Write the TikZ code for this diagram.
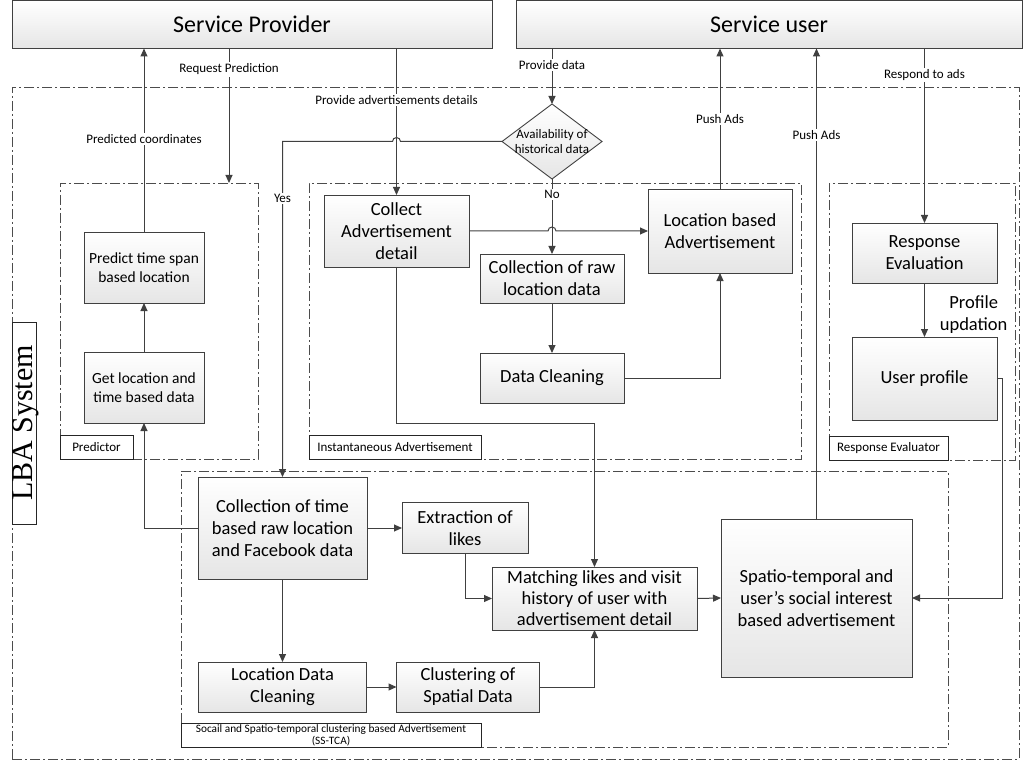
\documentclass[tikz,border=0pt]{standalone}
\usepackage{fontspec}
\setmainfont{Carlito}
\newfontfamily\lbafont{Liberation Serif}
\usetikzlibrary{arrows.meta, shapes.geometric}

\begin{document}
\begin{tikzpicture}[x=1pt, y=-1pt,
	every node/.style={outer sep=0pt},
	box/.style={draw=black!75, line width=0.9pt, top color=white, bottom color=black!10, align=center, inner sep=1pt, font=\fontsize{18.5}{22}\selectfont},
	smallbox/.style={box, font=\fontsize{15.5}{19}\selectfont},
	head/.style={box, font=\fontsize{24}{28}\selectfont},
	decision/.style={diamond, draw=black!75, line width=0.9pt, top color=white, bottom color=black!10, align=center, inner sep=-14pt, minimum width=100, minimum height=75, font=\fontsize{13}{15.5}\selectfont},
	group/.style={draw=black!70, line width=0.8pt, dash pattern=on 10pt off 3pt on 2pt off 3pt, inner sep=0pt},
	tag/.style={draw=black!85, line width=0.8pt, fill=white, anchor=south west, inner sep=1pt, font=\fontsize{13}{15}\selectfont},
	lbl/.style={fill=white, inner sep=1.5pt, font=\fontsize{13}{15}\selectfont},
	flow/.style={draw=black!75, line width=1pt, -{Triangle[length=8pt, width=7pt]}}]
	\useasboundingbox (0,0) rectangle (1023,762);
	\node[head, minimum width=480, minimum height=48] (sp) at (252,24.5) {Service Provider};
	\node[head, minimum width=506, minimum height=48] (su) at (769,24.5) {Service user};
	\node[group, minimum width=1007, minimum height=672] (lba) at (515.5,423) {};
	\node[group, minimum width=198, minimum height=276] (pred) at (159,321) {};
	\node[group, minimum width=492, minimum height=276] (inst) at (555,321) {};
	\node[group, minimum width=186, minimum height=277] (resp) at (922,321.5) {};
	\node[group, minimum width=767, minimum height=276] (ss) at (564.5,609) {};
	\node[tag, minimum width=73, minimum height=24] (predtag) at (pred.south west) {Predictor};
	\node[tag, minimum width=172, minimum height=24] (insttag) at (inst.south west) {Instantaneous Advertisement};
	\node[tag, minimum width=119, minimum height=24] (resptag) at (resp.south west) {Response Evaluator};
	\node[tag, minimum width=300, minimum height=24, align=center, font=\fontsize{11.3}{12}\selectfont] (sstag) at (ss.south west) {Socail and Spatio-temporal clustering based Advertisement\\(SS-TCA)};
	\node[draw=black!85, line width=0.9pt, rotate=90, minimum width=202, minimum height=24, inner sep=0pt, text height=20.5pt, text depth=3.5pt, font=\lbafont\fontsize{30}{30}\selectfont] (lbatag) at (24,423) {LBA System};
	\node[smallbox, minimum width=120, minimum height=71] (predict) at (144,267.5) {Predict time span\\based location};
	\node[smallbox, minimum width=120, minimum height=71] (getloc) at (144,387.5) {Get location and\\time based data};
	\node[box, minimum width=145, minimum height=72] (collect) at (396.5,231) {Collect\\Advertisement\\detail};
	\node[decision] (hist) at (552,141.5) {Availability of\\historical data};
	\node[box, minimum width=144, minimum height=49] (rawloc) at (552,278.5) {Collection of raw\\location data};
	\node[box, minimum width=144, minimum height=50] (clean) at (552,378) {Data Cleaning};
	\node[box, minimum width=144, minimum height=84] (locad) at (720,231) {Location based\\Advertisement};
	\node[box, minimum width=145, minimum height=60] (reval) at (924.5,253) {Response\\Evaluation};
	\node[box, minimum width=145, minimum height=83] (uprof) at (924.5,378.5) {User profile};
	\node[box, minimum width=169, minimum height=102] (colltime) at (282.5,528) {Collection of time\\based raw location\\and Facebook data};
	\node[box, minimum width=126, minimum height=51] (likes) at (465,528) {Extraction of\\likes};
	\node[box, minimum width=205, minimum height=63, inner ysep=0pt, font=\fontsize{18.5}{21}\selectfont] (match) at (594.5,598.5) {Matching likes and visit\\history of user with\\advertisement detail};
	\node[box, minimum width=168, minimum height=50] (locclean) at (282.5,687) {Location Data\\Cleaning};
	\node[box, minimum width=143, minimum height=50] (cluster) at (468,687) {Clustering of\\Spatial Data};
	\node[box, minimum width=191, minimum height=158] (spatio) at (816.5,598) {Spatio-temporal and\\user’s social interest\\based advertisement};
	\draw[flow] (predict.north) -- (predict.north |- sp.south) node[lbl, pos=0.505] {Predicted coordinates};
	\draw[flow] ([xshift=-23pt]sp.south) -- ([xshift=-23pt]sp.south |- pred.north) node[lbl, pos=0.156] {Request Prediction};
	\draw[flow] (getloc.north) -- (predict.south);
	\draw[flow] (colltime.west) -| (getloc.south);
	\draw[flow] (collect.north |- sp.south) -- (collect.north) node[lbl, pos=0.354] {Provide advertisements details};
	\draw[flow] (hist.north |- su.south) -- (hist.north) node[lbl, pos=0.29] {Provide data};
	\draw[flow] (hist.west) -- ([xshift=4pt]collect.north |- hist.west) arc[start angle=0, end angle=180, radius=4pt] -- (colltime.north |- hist.west) -- (colltime.north) node[lbl, pos=0.17] {Yes};
	\draw[flow] (hist.south) -- (rawloc.north) node[lbl, pos=0.21] {No};
	\draw[flow] (collect.east) -- ([xshift=-4pt]rawloc.north |- collect.east) arc[start angle=180, end angle=0, radius=4pt] -- (locad.west);
	\draw[flow] (rawloc.south) -- (clean.north);
	\draw[flow] (clean.east) -| (locad.south);
	\draw[flow] (locad.north) -- (locad.north |- su.south) node[lbl, pos=0.5] {Push Ads};
	\draw[flow] (spatio.north) -- (spatio.north |- su.south) node[lbl, pos=0.817] {Push Ads};
	\draw[flow] (reval.north |- su.south) -- (reval.north) node[lbl, pos=0.154] {Respond to ads};
	\draw[flow] (reval.south) -- (uprof.north) node[midway, right, xshift=12pt, yshift=-5pt, align=center, font=\fontsize{18.5}{22}\selectfont] {Profile\\updation};
	\draw[flow] (uprof.east) -- ++(5,0) |- (spatio.east);
	\draw[flow] (collect.south) -- ++(0,156) -| (match.north);
	\draw[flow] (colltime.east) -- (likes.west);
	\draw[flow] (likes.south) |- (match.west);
	\draw[flow] (colltime.south) -- (locclean.north);
	\draw[flow] (locclean.east) -- (cluster.west);
	\draw[flow] (cluster.east) -| (match.south);
	\draw[flow] (match.east) -- (spatio.west);
\end{tikzpicture}
\end{document}
